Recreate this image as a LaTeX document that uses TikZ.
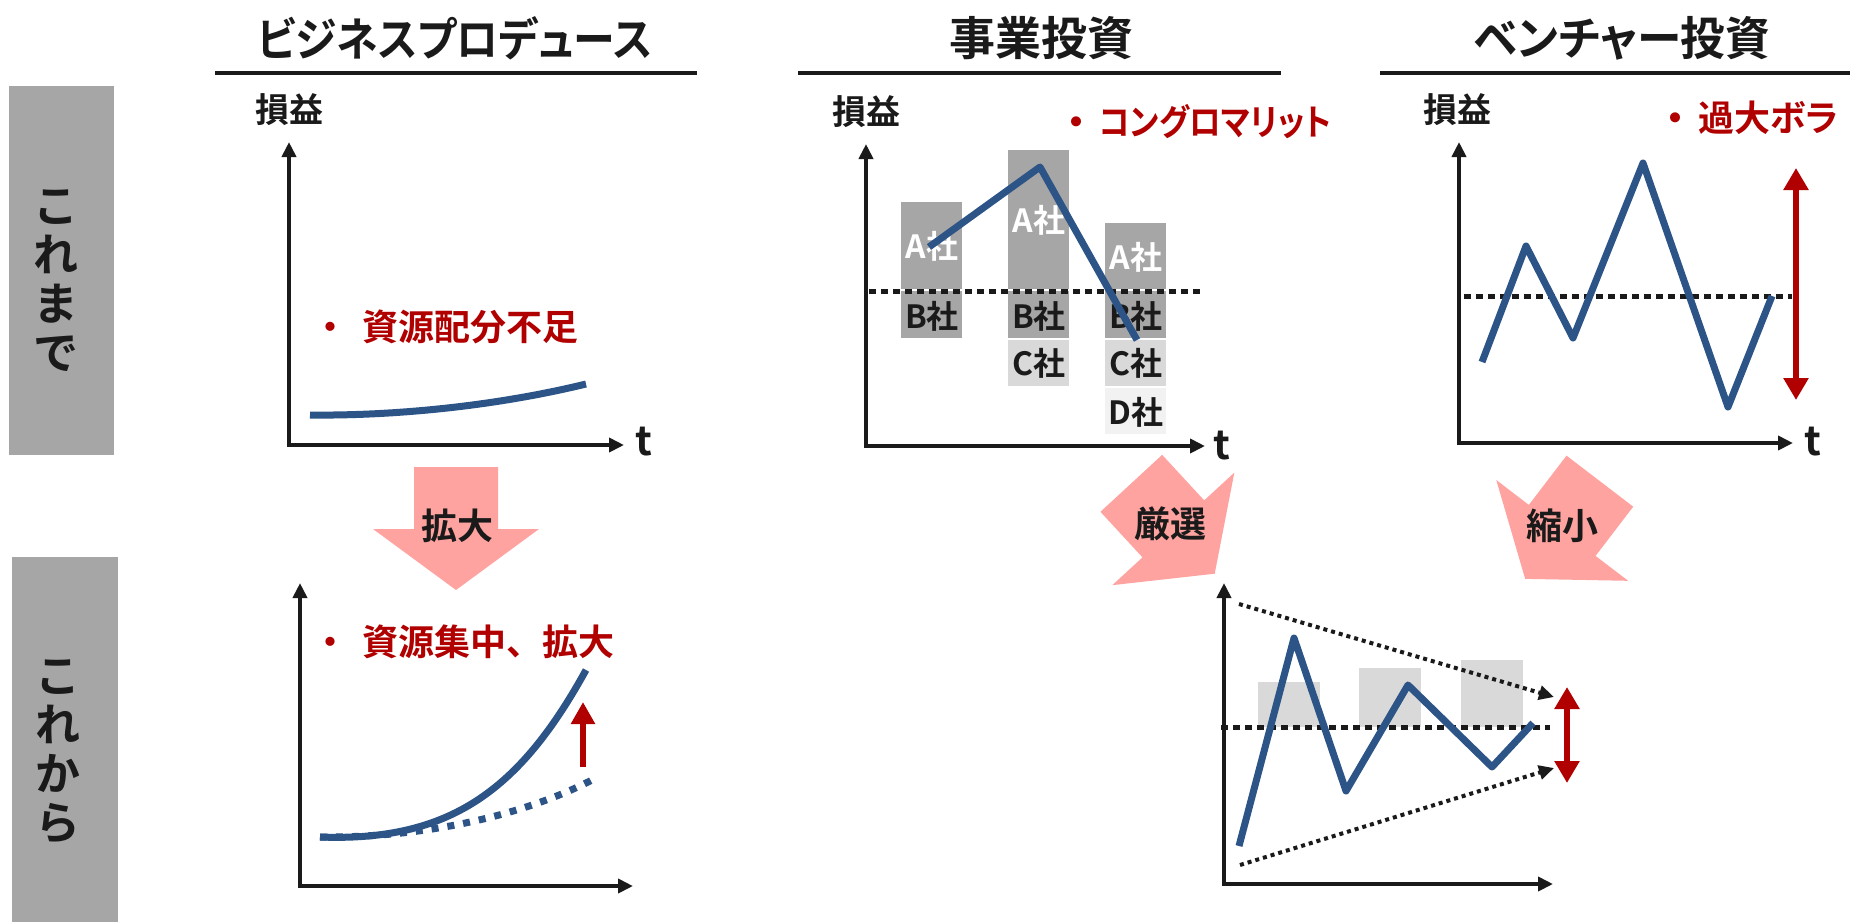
\documentclass[tikz,border=0pt]{standalone}
\usepackage{fontspec}
\setmainfont{Noto Sans CJK JP}[BoldFont={Noto Sans CJK JP Bold}]
\newfontfamily\jpp{Noto Sans CJK JP Bold}[RawFeature=+palt]
\usetikzlibrary{arrows.meta}
\definecolor{txt}{RGB}{26,26,26}
\definecolor{myred}{RGB}{176,0,0}
\definecolor{myblue}{RGB}{44,84,134}
\definecolor{pinkc}{RGB}{255,163,160}
\definecolor{gA}{RGB}{166,166,166}
\definecolor{gC}{RGB}{217,217,217}
\definecolor{gD}{RGB}{242,242,242}
\tikzset{
  axisline/.style={draw=txt, line width=4pt, line join=miter,
    {Triangle[length=15pt,width=14pt]}-{Triangle[length=15pt,width=14pt]}},
  blueline/.style={draw=myblue, line width=7pt, line join=round},
  zeroline/.style={draw=txt, line width=5pt, dash pattern=on 6.5pt off 5.5pt},
  redarrow/.style={draw=myred, line width=5.5pt, {Triangle[length=22pt,width=24pt]}-{Triangle[length=22pt,width=24pt]}},
  redup/.style={draw=myred, line width=5.5pt, -{Triangle[length=22pt,width=23pt]}},
  dotarrow/.style={draw=txt, line width=4pt, dash pattern=on 4pt off 4pt, -{Triangle[length=15pt,width=14pt]}},
  titletext/.style={font=\jpp\fontsize{46}{50}\selectfont, text=txt, inner sep=0pt},
  underline/.style={draw=txt, line width=4.5pt},
  ylabel/.style={font=\bfseries\fontsize{34}{38}\selectfont, text=txt, inner sep=0pt},
  tlabel/.style={font=\bfseries\fontsize{40}{44}\selectfont, text=txt, inner sep=0pt},
  redtext/.style={font=\bfseries\fontsize{36}{40}\selectfont, text=myred, inner sep=0pt, anchor=west},
  redtextp/.style={font=\jpp\fontsize{36}{40}\selectfont, text=myred, inner sep=0pt, anchor=west},
  sidebox/.style={fill=gA, draw=none},
  sidetext/.style={font=\bfseries\fontsize{45}{49}\selectfont, text=txt, align=center, inner sep=0pt},
  pinkarrow/.style={fill=pinkc, draw=none},
  pinktext/.style={font=\bfseries\fontsize{36}{40}\selectfont, text=txt, inner sep=0pt},
  seg/.style={draw=white, line width=1.5pt},
  barlabel/.style={font=\bfseries\fontsize{32}{36}\selectfont, inner sep=0pt},
}
\newcommand{\arrowshape}{(-42,-61.5) -- (42,-61.5) -- (42,0.5) -- (83,0.5) -- (0,61.5) -- (-83,0.5) -- (-42,0.5) -- cycle}
\begin{document}
\begin{tikzpicture}[x=1pt,y=-1pt]
\useasboundingbox (0,0) rectangle (1850,922);
\fill[white] (0,0) rectangle (1850,922);

% side boxes
\fill[sidebox] (9,86) rectangle (114,455);
\node[sidetext] (sideA) at (56,281) {こ\\れ\\ま\\で};
\fill[sidebox] (12,557) rectangle (118,922);
\node[sidetext] (sideB) at (58,752) {こ\\れ\\か\\ら};

% titles
\node[titletext] (t1) at (455,38) {\scalebox{0.91}[1]{ビジネスプロデュース}};
\draw[underline] (215,73) -- (697,73);
\node[titletext] (t2) at (1041,38) {事業投資};
\draw[underline] (798,73) -- (1281,73);
\node[titletext] (t3) at (1622,38) {\scalebox{0.97}[1]{ベンチャー投資}};
\draw[underline] (1380,73) -- (1850,73);

% ---------- chart 1 top ----------
\coordinate (c1o) at (289,445);
\coordinate (c1y) at (289,142);
\coordinate (c1x) at (624,445);
\draw[axisline] (c1y) -- (c1o) -- (c1x);
\node[ylabel] (c1lab) at (289,110) {損益};
\node[tlabel] (c1t) at (644,442) {t};
\node[redtext] (c1r) at (362,327) {\llap{・\kern14pt}資源配分不足};
\draw[blueline] (310,415) .. controls (400,416) and (500,405) .. (586,384);

% ---------- chart 1 bottom ----------
\coordinate (c4o) at (300,886);
\coordinate (c4y) at (300,583);
\coordinate (c4x) at (633,886);
\draw[axisline] (c4y) -- (c4o) -- (c4x);
\node[redtext] (c4r) at (362,642) {\llap{・\kern14pt}資源集中、拡大};
\draw[myblue, line width=7pt, dash pattern=on 7pt off 9pt] (320,837) .. controls (420,838) and (520,817) .. (592,780);
\draw[blueline] (320,837) .. controls (450,842) and (520,790) .. (586,670);
\coordinate (c4a) at (583,767);
\coordinate (c4b) at (583,702);
\draw[redup] (c4a) -- (c4b);

% ---------- pink arrows ----------
\begin{scope}[shift={(456,528.5)}]
  \fill[pinkarrow] \arrowshape;
\end{scope}
\node[pinktext] (p1) at (457,526) {拡大};
\begin{scope}[shift={(1173,528.5)}, rotate=42.7]
  \fill[pinkarrow] \arrowshape;
\end{scope}
\node[pinktext] (p2) at (1170,524) {厳選};
\begin{scope}[shift={(1562.5,530)}, rotate=-37.4]
  \fill[pinkarrow] \arrowshape;
\end{scope}
\node[pinktext] (p3) at (1562,526) {縮小};

% ---------- chart 2 top ----------
\fill[gA, seg] (900,201) rectangle (963,290);
\fill[gA, seg] (900,290) rectangle (963,339);
\fill[gA, seg] (1007,149) rectangle (1070,290);
\fill[gA, seg] (1007,290) rectangle (1070,339);
\fill[gC, seg] (1007,339) rectangle (1070,387);
\fill[gA, seg] (1104,222) rectangle (1167,290);
\fill[gA, seg] (1104,290) rectangle (1167,339);
\fill[gC, seg] (1104,339) rectangle (1167,387);
\fill[gD, seg] (1104,387) rectangle (1167,435);
\node[barlabel, text=white] (b1a) at (932,246) {A社};
\node[barlabel, text=txt] (b1b) at (932,316) {B社};
\node[barlabel, text=white] (b2a) at (1039,220) {A社};
\node[barlabel, text=txt] (b2b) at (1039,316) {B社};
\node[barlabel, text=txt] (b2c) at (1039,363) {C社};
\node[barlabel, text=white] (b3a) at (1136,257) {A社};
\node[barlabel, text=txt] (b3b) at (1136,316) {B社};
\node[barlabel, text=txt] (b3c) at (1136,363) {C社};
\node[barlabel, text=txt] (b3d) at (1136,412) {D社};
\coordinate (c2o) at (866,446);
\coordinate (c2y) at (866,144);
\coordinate (c2x) at (1205,446);
\draw[axisline] (c2y) -- (c2o) -- (c2x);
\draw[zeroline] (869,291) -- (1200,291);
\draw[blueline] (929,247) -- (1040,167) -- (1137,340);
\node[ylabel] (c2lab) at (866,112) {損益};
\node[tlabel] (c2t) at (1222,446) {t};
\node[redtextp] (c2r) at (1099,122) {\llap{\bfseries ・\kern14pt}\scalebox{0.88}[1]{コングロマリット}};

% ---------- chart 3 top ----------
\coordinate (c3o) at (1459,443);
\coordinate (c3y) at (1459,142);
\coordinate (c3x) at (1793,443);
\draw[axisline] (c3y) -- (c3o) -- (c3x);
\draw[zeroline] (1464,296) -- (1792,296);
\draw[blueline] (1482,362) -- (1526,246) -- (1573,338) -- (1643,163) -- (1728,407) -- (1772,296);
\node[ylabel] (c3lab) at (1457,110) {損益};
\node[tlabel] (c3t) at (1813,442) {t};
\node[redtextp] (c3r) at (1698,118) {\llap{\bfseries ・\kern14pt}過大ボラ};
\coordinate (c3a) at (1796,168);
\coordinate (c3b) at (1796,400);
\draw[redarrow] (c3a) -- (c3b);

% ---------- chart 3 bottom ----------
\fill[gC] (1258,682) rectangle (1320,727);
\fill[gC] (1359,668) rectangle (1421,727);
\fill[gC] (1461,660) rectangle (1523,727);
\coordinate (c5o) at (1224,884);
\coordinate (c5y) at (1224,583);
\coordinate (c5x) at (1553,884);
\draw[axisline] (c5y) -- (c5o) -- (c5x);
\draw[zeroline] (1221,727) -- (1550,727);
\draw[blueline] (1239,846) -- (1294,638) -- (1346,791) -- (1408,685) -- (1492,767) -- (1533,723);
\coordinate (d1s) at (1239,604);
\coordinate (d1e) at (1554,697);
\coordinate (d2s) at (1240,865);
\coordinate (d2e) at (1554,768);
\draw[dotarrow] (d1s) -- (d1e);
\draw[dotarrow] (d2s) -- (d2e);
\coordinate (c5a) at (1567,687);
\coordinate (c5b) at (1567,783);
\draw[redarrow] (c5a) -- (c5b);
\end{tikzpicture}
\end{document}
